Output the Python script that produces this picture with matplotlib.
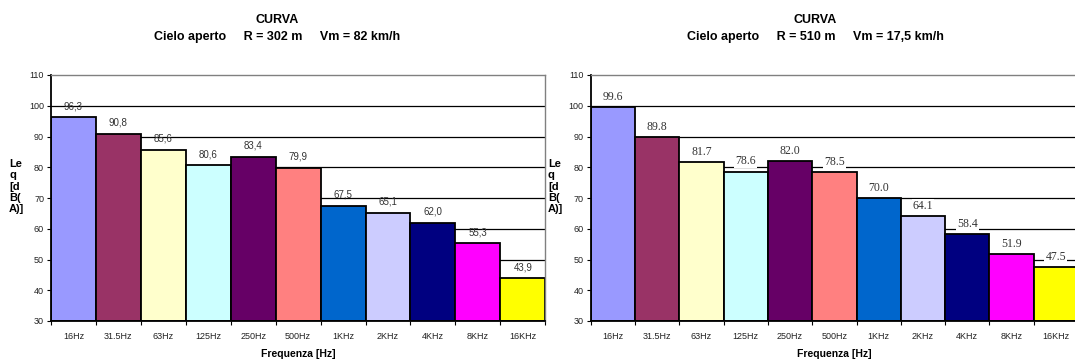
import matplotlib
matplotlib.use("Agg")
import matplotlib.pyplot as plt
import numpy as np

bands = ["16Hz", "31.5Hz", "63Hz", "125Hz", "250Hz", "500Hz",
         "1KHz", "2KHz", "4KHz", "8KHz", "16KHz"]
leq_r302 = [96.3, 90.8, 85.6, 80.6, 83.4, 79.9, 67.5, 65.1, 62.0, 55.3, 43.9]
leq_r510 = [99.6, 89.8, 81.7, 78.6, 82.0, 78.5, 70.0, 64.1, 58.4, 51.9, 47.5]
yticks = [30, 40, 50, 60, 70, 80, 90, 100, 110]
subtitles = ["Cielo aperto     R = 302 m     Vm = 82 km/h",
             "Cielo aperto     R = 510 m     Vm = 17,5 km/h"]
bar_colors = ["#9999FF", "#993366", "#FFFFCC", "#CCFFFF", "#660066", "#FF8080",
              "#0066CC", "#CCCCFF", "#000080", "#FF00FF", "#FFFF00"]

plt.rcParams["font.family"] = ["Liberation Sans", "DejaVu Sans"]

W, H = 1075, 359
fig = plt.figure(figsize=(W / 100, H / 100), dpi=100)


def px_axes(x0, x1, ytop, ybot):
    return fig.add_axes([x0 / W, 1 - ybot / H, (x1 - x0) / W, (ybot - ytop) / H])


def draw_panel(ax, values, subtitle, label_style, title_x, ylab_x):
    x = np.arange(len(bands))
    ax.set_axisbelow(True)
    for yv in yticks[1:-1]:
        ax.axhline(yv, color="black", lw=0.9, zorder=0)
    ax.bar(x, [v - 30 for v in values], bottom=30, width=1.0,
           color=bar_colors, edgecolor="black", linewidth=1.3, zorder=2)
    ax.set_xlim(-0.5, len(bands) - 0.5)
    ax.set_ylim(30, 110)
    ax.set_yticks(yticks)
    ax.set_yticklabels([str(t) for t in yticks], fontsize=6.5, color="#222222")
    ax.tick_params(axis="y", direction="out", length=3, width=0.8, pad=2)
    ax.set_xticks(x)
    ax.set_xticklabels(bands, fontsize=6.5, color="#222222")
    ax.tick_params(axis="x", which="major", length=0, pad=8)
    ax.set_xticks(np.arange(-0.5, len(bands)), minor=True)
    ax.tick_params(axis="x", which="minor", direction="out", length=3, width=0.8)
    for side in ("top", "right"):
        ax.spines[side].set_color("#808080")
        ax.spines[side].set_linewidth(1.0)
    for side in ("left", "bottom"):
        ax.spines[side].set_color("black")
        ax.spines[side].set_linewidth(1.3)

    for xi, v in zip(x, values):
        if label_style == "comma":
            ax.text(xi, v + 3.6, f"{v:.1f}".replace(".", ","), ha="center",
                    va="center", fontsize=7, color="#333333", zorder=3)
        else:
            ax.text(xi, v + 3.3, f"{v:.1f}", ha="center", va="center",
                    fontsize=8.5, color="#333333", zorder=3,
                    family=["Liberation Serif", "DejaVu Serif"],
                    bbox=dict(facecolor="white", edgecolor="none", pad=0.8))

    fig.text(title_x / W, 1 - 20 / H, "CURVA", ha="center", va="center",
             fontsize=9, fontweight="bold")
    fig.text(title_x / W, 1 - 37 / H, subtitle, ha="center", va="center",
             fontsize=9, fontweight="bold")
    ax.set_xlabel("Frequenza [Hz]", fontsize=7.5, fontweight="bold", labelpad=6)
    fig.text(ylab_x / W, 1 - 186.5 / H, "Le\nq\n[d\nB(\nA)]", ha="left",
             va="center", fontsize=8, fontweight="bold", linespacing=1.15)


ax1 = px_axes(51, 545.3, 75, 321)
draw_panel(ax1, leq_r302, subtitles[0], "comma", 277, 9)

ax2 = px_axes(590.7, 1078, 75, 321)
draw_panel(ax2, leq_r510, subtitles[1], "dot", 815, 548)

fig.savefig("out.png", dpi=100)
